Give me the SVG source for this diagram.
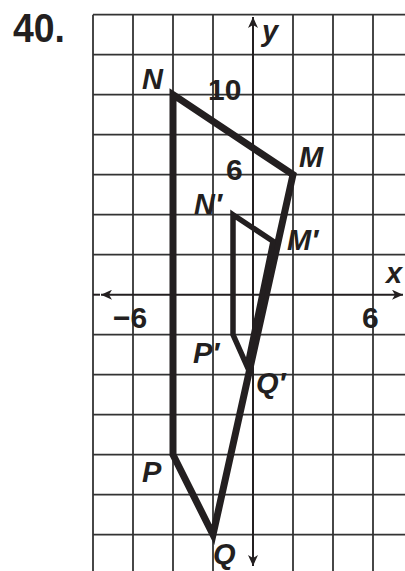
<svg xmlns="http://www.w3.org/2000/svg" width="405" height="571" viewBox="0 0 405 571">
<defs>
<style>
.grid line{stroke:#333;stroke-width:1.8}
.axis{stroke:#231f20;stroke-width:2;fill:none}
.big{fill:none;stroke:#231f20;stroke-width:7;stroke-linejoin:miter;stroke-miterlimit:10}
.small{fill:none;stroke:#231f20;stroke-width:5.5;stroke-linejoin:miter;stroke-miterlimit:10}
.lbl{font-family:"Liberation Sans",Arial,sans-serif;font-weight:bold;font-style:italic;font-size:29px;fill:#231f20}
.num{font-family:"Liberation Sans",Arial,sans-serif;font-weight:bold;font-size:30px;fill:#231f20}
</style>
<marker id="ah" markerWidth="12" markerHeight="10" refX="11" refY="5" orient="auto" markerUnits="userSpaceOnUse">
<path d="M0,0 L11,5 L0,10 L3,5 Z" fill="#231f20"/>
</marker>
</defs>
<rect width="405" height="571" fill="#fff"/>
<text x="13" y="42" font-family="Liberation Sans,Arial,sans-serif" font-weight="bold" font-size="41" fill="#231f20" textLength="52" lengthAdjust="spacingAndGlyphs">40.</text>
<g class="grid" id="grid">
<line x1="93" y1="14.7" x2="93" y2="571"/>
<line x1="133" y1="14.7" x2="133" y2="571"/>
<line x1="173" y1="14.7" x2="173" y2="571"/>
<line x1="213" y1="14.7" x2="213" y2="571"/>
<line x1="293" y1="14.7" x2="293" y2="571"/>
<line x1="333" y1="14.7" x2="333" y2="571"/>
<line x1="373" y1="14.7" x2="373" y2="571"/>
<line x1="93" y1="14.7" x2="405" y2="14.7"/>
<line x1="93" y1="54.7" x2="405" y2="54.7"/>
<line x1="93" y1="94.7" x2="405" y2="94.7"/>
<line x1="93" y1="134.7" x2="405" y2="134.7"/>
<line x1="93" y1="174.7" x2="405" y2="174.7"/>
<line x1="93" y1="214.7" x2="405" y2="214.7"/>
<line x1="93" y1="254.7" x2="405" y2="254.7"/>
<line x1="93" y1="334.7" x2="405" y2="334.7"/>
<line x1="93" y1="374.7" x2="405" y2="374.7"/>
<line x1="93" y1="414.7" x2="405" y2="414.7"/>
<line x1="93" y1="454.7" x2="405" y2="454.7"/>
<line x1="93" y1="494.7" x2="405" y2="494.7"/>
<line x1="93" y1="534.7" x2="405" y2="534.7"/>
</g>
<g id="axes">
<line class="axis" x1="93" y1="294.7" x2="100" y2="294.7"/>
<line class="axis" x1="253" y1="294.7" x2="101" y2="294.7" marker-end="url(#ah)"/>
<line class="axis" x1="253" y1="294.7" x2="403" y2="294.7" marker-end="url(#ah)"/>
<line class="axis" x1="253" y1="294.7" x2="253" y2="17" marker-end="url(#ah)"/>
<line class="axis" x1="253" y1="294.7" x2="253" y2="566" marker-end="url(#ah)"/>
</g>
<g id="connectors">
<polygon id="NMQP" class="big" points="173,94.7 293,174.7 213,534.7 173,454.7"/>
<polygon id="NMQP-image" class="small" points="233,214.7 273,241.3 247,366 233,334.7"/>
</g>
<g id="labels">
<text class="lbl" x="262" y="41">y</text>
<text class="lbl" x="386" y="283">x</text>
<text class="lbl" x="142" y="89">N</text>
<text class="lbl" x="299" y="167">M</text>
<text class="lbl" x="194" y="214">N′</text>
<text class="lbl" x="287" y="250">M′</text>
<text class="lbl" x="193" y="363">P′</text>
<text class="lbl" x="256" y="393">Q′</text>
<text class="lbl" x="142" y="482">P</text>
<text class="lbl" x="213" y="564">Q</text>
<text class="num" x="208" y="100">10</text>
<text class="num" x="226" y="180">6</text>
<text class="num" x="113" y="328">−6</text>
<text class="num" x="362" y="328">6</text>
</g>
</svg>
